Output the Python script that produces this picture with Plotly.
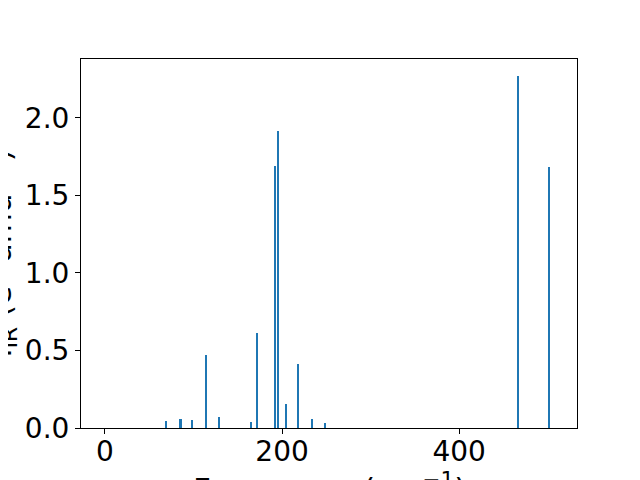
import plotly.graph_objects as go

freqs = [69.1, 85.6, 98.8, 114.1, 128.8, 165.6, 172.1, 192.3, 195.7, 204.7, 218.3, 234.0, 248.7, 466.5, 501.4]
intensities = [0.045, 0.058, 0.052, 0.47, 0.071, 0.039, 0.613, 1.69, 1.916, 0.155, 0.413, 0.058, 0.032, 2.271, 1.684]
x_ticks = [0, 200, 400]
y_ticks = [0.0, 0.5, 1.0, 1.5, 2.0]
y_tick_labels = ["0.0", "0.5", "1.0", "1.5", "2.0"]

fig = go.Figure()
fig.add_trace(go.Bar(x=freqs, y=intensities, width=2, marker=dict(color="#1f77b4", line=dict(width=0))))

font = dict(family="DejaVu Sans", size=28, color="black")
label_font = dict(family="DejaVu Sans", size=31, color="black")
fig.update_layout(
    width=640, height=480,
    margin=dict(l=73, r=71, t=51, b=60),
    plot_bgcolor="white", paper_bgcolor="white",
    showlegend=False,
    font=font,
    bargap=0,
)
fig.update_xaxes(range=[-27, 533], tickvals=x_ticks, ticks="outside", ticklen=5, tickcolor="black",
                 showline=True, linecolor="black", linewidth=1, mirror=True, showgrid=False, zeroline=False,
                 tickfont=font, ticklabelstandoff=-7)
fig.update_yaxes(range=[0, 2.38], tickvals=y_ticks, ticktext=y_tick_labels, ticks="outside", ticklen=5, tickcolor="black",
                 showline=True, linecolor="black", linewidth=1, mirror=True, showgrid=False, zeroline=False,
                 tickfont=font)

fig.add_annotation(text="Frequency (cm<sup>−1</sup>)", xref="paper", yref="paper", x=0.5, y=-0.161,
                   xanchor="center", yanchor="middle", showarrow=False, font=label_font)
fig.add_annotation(text="I<sub>IR</sub> (e<sup>2</sup> amu<sup>−1</sup>)", xref="paper", yref="paper", x=-0.162, y=0.472,
                   xanchor="center", yanchor="middle", textangle=-90, showarrow=False, font=label_font)

fig.write_html("out.html")
